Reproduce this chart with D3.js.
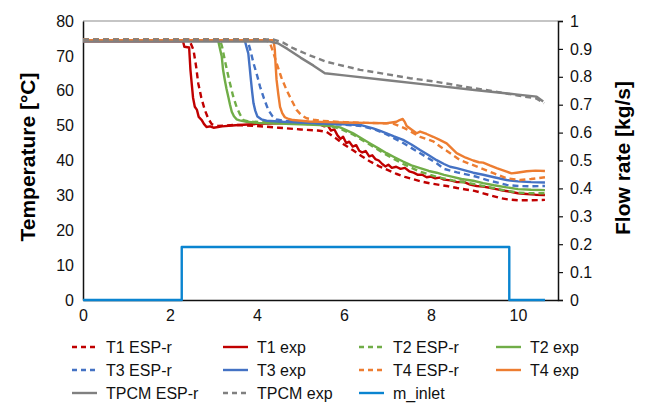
<!DOCTYPE html>
<html>
<head>
<meta charset="utf-8">
<script src="https://cdn.jsdelivr.net/npm/d3@7"></script>
<style>
  body { margin: 0; background: #fff; }
  svg { display: block; font-family: "Liberation Sans", Arial, sans-serif; }
</style>
</head>
<body>
<div id="chart"></div>
<script>
// time [h] , temperature [°C]
const T1_ESP_r = [[0,74.8],[2.42,74.8],[2.48,73.5],[2.54,71.7],[2.60,67],[2.65,62.1],[2.72,58],[2.80,54.5],[2.88,52],[2.96,50.4],[3.1,49.9],[3.5,50.2],[4.0,49.9],[4.5,49.4],[5.0,48.9],[5.4,48.6],[5.6,48.2],[5.8,46.5],[6.0,44.6],[6.2,43.0],[6.4,41.3],[6.6,39.7],[6.8,38.4],[7.0,37.3],[7.2,36.2],[7.4,35.3],[7.6,34.6],[7.8,33.9],[8.0,33.4],[8.2,33.0],[8.4,32.6],[8.6,32.1],[8.8,31.7],[9.0,31.3],[9.2,30.6],[9.4,29.9],[9.6,29.2],[9.8,28.8],[10.0,28.6],[10.3,28.6],[10.62,28.7]];
const T1_exp = [[0,74.2],[2.30,74.2],[2.33,72.6],[2.44,72.4],[2.47,66],[2.50,62],[2.53,58],[2.57,55.4],[2.62,54.5],[2.66,52.5],[2.73,51.6],[2.78,50.5],[2.84,49.6],[2.92,49.8],[3.0,49.4],[3.2,49.8],[3.5,50.1],[4.0,50.5],[4.5,50.7],[5.0,50.8],[5.4,50.6],[5.55,49.8],[5.62,50.2],[5.7,48.6],[5.78,48.9],[5.85,47.2],[5.92,46.2],[5.98,46.8],[6.05,45.0],[6.12,45.4],[6.2,44.0],[6.28,44.4],[6.35,42.8],[6.42,42.3],[6.5,42.7],[6.58,41.2],[6.65,41.5],[6.72,40.4],[6.8,40.0],[6.88,39.0],[6.95,38.3],[7.02,38.8],[7.1,37.9],[7.2,38.2],[7.3,37.6],[7.4,37.9],[7.5,36.9],[7.6,36.5],[7.7,35.9],[7.8,35.9],[7.9,35.2],[8.0,35.4],[8.1,34.9],[8.2,35.1],[8.3,34.5],[8.45,34.3],[8.6,33.8],[8.75,33.9],[8.9,33.1],[9.05,32.7],[9.2,32.5],[9.35,32.2],[9.5,31.8],[9.65,31.4],[9.8,31.1],[10.0,30.6],[10.2,30.4],[10.4,30.2],[10.62,30.1]];
const T2_ESP_r = [[0,74.6],[3.15,74.6],[3.20,72.5],[3.26,68.8],[3.32,65.3],[3.38,62.1],[3.45,58.5],[3.53,55.4],[3.61,53.2],[3.69,51.6],[3.8,51.2],[3.91,51.1],[4.5,50.9],[5.0,50.6],[5.45,50.2],[5.7,49.8],[5.9,49.2],[6.2,47.5],[6.6,44.5],[6.98,41.6],[7.36,39.0],[7.75,36.8],[8.13,35.3],[8.5,34.3],[8.97,33.3],[9.35,32.3],[9.74,31.3],[10.0,30.8],[10.3,30.6],[10.62,30.6]];
const T2_exp = [[0,74.3],[3.11,74.3],[3.15,72],[3.19,69.8],[3.22,66],[3.26,63.1],[3.30,60.5],[3.34,58.3],[3.38,56],[3.42,54.0],[3.47,52.7],[3.53,51.8],[3.6,51.5],[3.76,51.1],[4.0,50.8],[4.5,50.6],[5.0,50.4],[5.45,50.2],[5.7,49.9],[5.91,49.5],[6.05,48.7],[6.21,47.8],[6.4,46.4],[6.6,44.9],[6.8,43.4],[6.98,42.1],[7.15,41.0],[7.36,39.7],[7.55,38.6],[7.75,37.8],[7.95,37.0],[8.13,36.5],[8.3,35.9],[8.5,35.3],[8.7,34.7],[8.97,34.2],[9.2,33.5],[9.45,32.9],[9.74,32.3],[10.0,31.8],[10.3,31.6],[10.62,31.5]];
const T3_ESP_r = [[0,74.7],[3.78,74.7],[3.85,71.5],[3.92,67.9],[4.0,64.5],[4.07,61.2],[4.16,57.8],[4.26,54.5],[4.35,52.8],[4.45,51.8],[4.6,51.4],[5.0,51.0],[5.5,50.6],[6.0,50.3],[6.4,49.9],[6.7,48.9],[6.98,47.5],[7.36,45.0],[7.75,42.1],[8.13,39.2],[8.3,37.6],[8.6,36.6],[8.97,35.6],[9.35,34.2],[9.74,33.0],[10.0,32.7],[10.3,32.6],[10.62,32.7]];
const T3_exp = [[0,74.4],[3.72,74.4],[3.76,72.5],[3.80,70.7],[3.83,67],[3.86,63.1],[3.89,59.5],[3.92,56.4],[3.96,54.3],[4.01,52.6],[4.1,51.8],[4.22,51.4],[4.6,51.1],[5.0,50.9],[5.5,50.6],[6.0,50.4],[6.37,50.2],[6.67,49.2],[6.85,48.4],[6.98,47.8],[7.15,46.9],[7.36,45.9],[7.55,44.6],[7.75,43.0],[7.95,41.5],[8.13,40.1],[8.3,39.0],[8.44,38.2],[8.59,37.8],[8.8,37.1],[8.97,36.5],[9.2,35.9],[9.45,35.2],[9.74,34.4],[10.0,34.0],[10.3,33.8],[10.62,33.7]];
const T4_ESP_r = [[0,74.8],[4.18,74.8],[4.30,73.6],[4.38,70.8],[4.45,67.9],[4.56,63.8],[4.68,60.2],[4.80,57.2],[4.91,54.5],[5.02,53.0],[5.14,52.1],[5.3,51.7],[5.45,51.4],[6.0,51.0],[6.5,50.8],[7.13,50.6],[7.4,49.2],[7.75,46.8],[8.05,45.5],[8.21,44.0],[8.36,42.8],[8.67,40.1],[9.13,37.9],[9.45,36.3],[9.74,34.9],[10.05,34.4],[10.3,34.7],[10.62,35.2]];
const T4_exp = [[0,74.5],[4.38,74.5],[4.41,71.7],[4.43,67],[4.45,63.1],[4.49,59],[4.53,55.4],[4.58,53.6],[4.64,52.4],[4.73,51.9],[4.83,51.6],[5.2,51.2],[5.6,51.0],[6.0,50.9],[6.5,50.8],[6.98,50.7],[7.1,50.9],[7.21,51.1],[7.28,51.6],[7.35,51.9],[7.40,51.0],[7.44,49.9],[7.55,48.9],[7.67,47.8],[7.75,48.3],[7.9,47.6],[8.05,46.8],[8.2,45.9],[8.36,44.9],[8.59,42.1],[8.8,40.8],[8.97,40.0],[9.1,39.5],[9.2,39.4],[9.35,38.6],[9.51,37.8],[9.74,36.8],[9.85,36.3],[9.97,36.5],[10.2,36.9],[10.4,37.1],[10.62,37.0]];
const TPCM_ESP_r = [[0,74.1],[4.3,74.1],[4.48,73.6],[4.7,72],[5.0,69.5],[5.3,67.2],[5.56,65.0],[6.0,64.4],[7.0,63.0],[8.0,61.6],[9.0,60.2],[10.0,58.9],[10.43,58.3],[10.58,56.9]];
const TPCM_exp = [[0,74.7],[4.37,74.7],[4.6,73.8],[4.83,72.2],[5.2,70.2],[5.6,68.3],[6.0,67.1],[6.37,66.0],[7.0,64.7],[7.52,63.6],[8.1,62.6],[8.67,61.4],[9.0,60.7],[9.43,59.9],[10.0,58.6],[10.42,57.8],[10.6,56.4]];
// time [h] , flow [kg/s]
const m_inlet = [[0,0],[2.27,0],[2.27,0.19],[9.8,0.19],[9.8,0],[10.62,0]];

const X_TICKS = [0, 2, 4, 6, 8, 10];
const Y_TICKS = [0, 10, 20, 30, 40, 50, 60, 70, 80];
const Y2_TICKS = [0, 0.1, 0.2, 0.3, 0.4, 0.5, 0.6, 0.7, 0.8, 0.9, 1];

const RED = "#C00000", GREEN = "#70AD47", BLUE = "#4472C4", ORANGE = "#ED7D31", GRAY = "#808080", SKY = "#0A84D0";

// legend order (row-major, 4 per row)
const SERIES = [
  { name: "T1 ESP-r", data: T1_ESP_r, color: RED, dash: true },
  { name: "T1 exp", data: T1_exp, color: RED, dash: false },
  { name: "T2 ESP-r", data: T2_ESP_r, color: GREEN, dash: true },
  { name: "T2 exp", data: T2_exp, color: GREEN, dash: false },
  { name: "T3 ESP-r", data: T3_ESP_r, color: BLUE, dash: true },
  { name: "T3 exp", data: T3_exp, color: BLUE, dash: false },
  { name: "T4 ESP-r", data: T4_ESP_r, color: ORANGE, dash: true },
  { name: "T4 exp", data: T4_exp, color: ORANGE, dash: false },
  { name: "TPCM ESP-r", data: TPCM_ESP_r, color: GRAY, dash: false },
  { name: "TPCM exp", data: TPCM_exp, color: GRAY, dash: true },
  { name: "m_inlet", data: m_inlet, color: SKY, dash: false, right: true }
];

const W = 648, H = 407;
const margin = { top: 21, right: 90, bottom: 107, left: 83 };
const plotW = 558 - margin.left, plotH = 300 - margin.top;

const svg = d3.select("#chart").append("svg").attr("width", W).attr("height", H);
const g = svg.append("g").attr("transform", `translate(${margin.left},${margin.top})`);

const x = d3.scaleLinear().domain([0, 10.92]).range([0, plotW]);
const y = d3.scaleLinear().domain([0, 80]).range([plotH, 0]);
const y2 = d3.scaleLinear().domain([0, 1]).range([plotH, 0]);

// frame
g.append("line").attr("x1", 0).attr("x2", plotW).attr("y1", 0).attr("y2", 0)
  .attr("stroke", "#8c8c8c").attr("stroke-width", 1.2);

const fontTick = "16px";

const xAxis = g.append("g").attr("transform", `translate(0,${plotH})`)
  .call(d3.axisBottom(x).tickValues(X_TICKS).tickSize(0).tickPadding(10).tickFormat(d3.format("d")));
const yAxis = g.append("g")
  .call(d3.axisLeft(y).tickValues(Y_TICKS).tickSize(0).tickPadding(9));
const y2Axis = g.append("g").attr("transform", `translate(${plotW},0)`)
  .call(d3.axisRight(y2).tickValues(Y2_TICKS).tickSize(5).tickPadding(7).tickFormat(d => d === 0 || d === 1 ? d3.format("d")(d) : d3.format(".1f")(d)));

[xAxis, yAxis, y2Axis].forEach(a => {
  a.select(".domain").attr("stroke", "#111").attr("stroke-width", 1.5);
  a.selectAll(".tick line").attr("stroke", "#111").attr("stroke-width", 1.2);
  a.selectAll("text").style("font-size", fontTick).style("font-family", "Liberation Sans, Arial, sans-serif").attr("fill", "#111");
});

const line = d3.line().x(d => x(d[0])).y(d => y(d[1]));
const line2 = d3.line().x(d => x(d[0])).y(d => y2(d[1]));

// T series first, gray on top of them, m_inlet last
SERIES.forEach(s => {
  g.append("path")
    .datum(s.data)
    .attr("fill", "none")
    .attr("stroke", s.color)
    .attr("stroke-width", 2.4)
    .attr("stroke-linejoin", "round")
    .attr("stroke-dasharray", s.dash ? "6,4" : null)
    .attr("d", s.right ? line2 : line);
});

// axis titles
svg.append("text")
  .attr("transform", `translate(35,157) rotate(-90)`)
  .attr("text-anchor", "middle")
  .style("font-size", "21px").style("font-weight", "bold")
  .text("Temperature [°C]");
svg.append("text")
  .attr("transform", `translate(630,158) rotate(-90)`)
  .attr("text-anchor", "middle")
  .style("font-size", "21px").style("font-weight", "bold")
  .text("Flow rate [kg/s]");

// legend
const legendCols = [72, 223, 359, 496];
const legendRows = [347, 370, 393];
const legend = svg.append("g");
SERIES.forEach((s, i) => {
  const cx = legendCols[i % 4], cy = legendRows[Math.floor(i / 4)];
  legend.append("line")
    .attr("x1", cx).attr("x2", cx + 25).attr("y1", cy).attr("y2", cy)
    .attr("stroke", s.color).attr("stroke-width", 2.4)
    .attr("stroke-dasharray", s.dash ? "5,4" : null);
  legend.append("text")
    .attr("x", cx + 34).attr("y", cy)
    .attr("dy", "0.35em")
    .style("font-size", "16px")
    .attr("fill", "#111")
    .text(s.name);
});
</script>
</body>
</html>
